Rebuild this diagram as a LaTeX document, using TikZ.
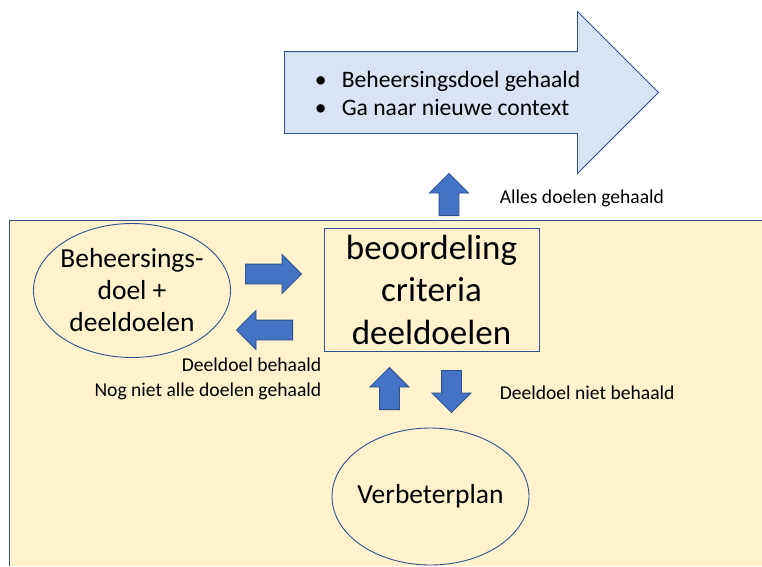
\documentclass[tikz,border=0pt]{standalone}
\usepackage{fontspec}
\setmainfont{Carlito}
\usetikzlibrary{shapes.geometric,shapes.arrows}
\definecolor{rand}{HTML}{2F528F}
\definecolor{lichtblauw}{HTML}{DAE3F3}
\definecolor{beige}{HTML}{FFF2CC}
\definecolor{pijlblauw}{HTML}{4472C4}

\begin{document}
\begin{tikzpicture}[x=1pt,y=-1pt,line width=0.9pt,
  blok/.style={single arrow,draw=rand,fill=pijlblauw,inner sep=9.5pt,
    single arrow head extend=9.5pt,minimum width=38pt,anchor=tail},
  ovaal/.style={ellipse,draw=rand,inner xsep=-6pt,inner ysep=0pt,align=center},
  klein/.style={font=\fontsize{19.6}{25}\selectfont}]
\useasboundingbox (0,0) rectangle (762,566);
\fill[beige] (9,220) rectangle (762,566);
\draw[rand] (762,220)--(9,220)--(9,566);
% grote pijl
\node[single arrow,draw=rand,fill=lichtblauw,inner sep=40.5pt,anchor=tail,
  single arrow head extend=40pt,minimum width=161pt,minimum height=374pt]
  (doel) at (284,92.5) {};
\node[anchor=west,align=left,font=\fontsize{23.6}{28}\selectfont] (lijst) at (311,93)
  {\makebox[27pt][l]{\textbullet}Beheersingsdoel gehaald\\
   \makebox[27pt][l]{\textbullet}Ga naar nieuwe context};
% knopen
\node[ovaal,minimum width=197pt,minimum height=134pt,
  font=\fontsize{27.5}{32}\selectfont] (beh) at (132,290.5)
  {Beheersings-\\doel +\\deeldoelen};
\node[draw=rand,inner sep=0pt,minimum width=215pt,minimum height=123pt,align=center,
  font=\fontsize{35}{42.5}\selectfont] (crit) at (431.5,289.5)
  {beoordeling\\criteria\\deeldoelen};
\node[ovaal,minimum width=197pt,minimum height=137pt,
  font=\fontsize{27.5}{32}\selectfont] (plan) at (430.5,496.5) {Verbeterplan};
% blokpijlen
\node[blok,minimum height=56pt] (naar) at (245,274) {};
\node[blok,minimum height=56pt,shape border rotate=180] (terug) at (293,330) {};
\node[blok,minimum height=42pt,shape border rotate=90] (klaar) at (449,216) {};
\node[blok,minimum height=42pt,shape border rotate=90] (op) at (389.5,410) {};
\node[blok,minimum height=42pt,shape border rotate=270] (neer) at (451.5,370) {};
% labels
\node[klein,anchor=east,align=right] (deel) at (325,379)
  {Deeldoel behaald\\Nog niet alle doelen gehaald};
\node[klein,anchor=west] (alles) at (496,198) {Alles doelen gehaald};
\node[klein,anchor=west] (niet) at (496,393) {Deeldoel niet behaald};
\end{tikzpicture}
\end{document}
